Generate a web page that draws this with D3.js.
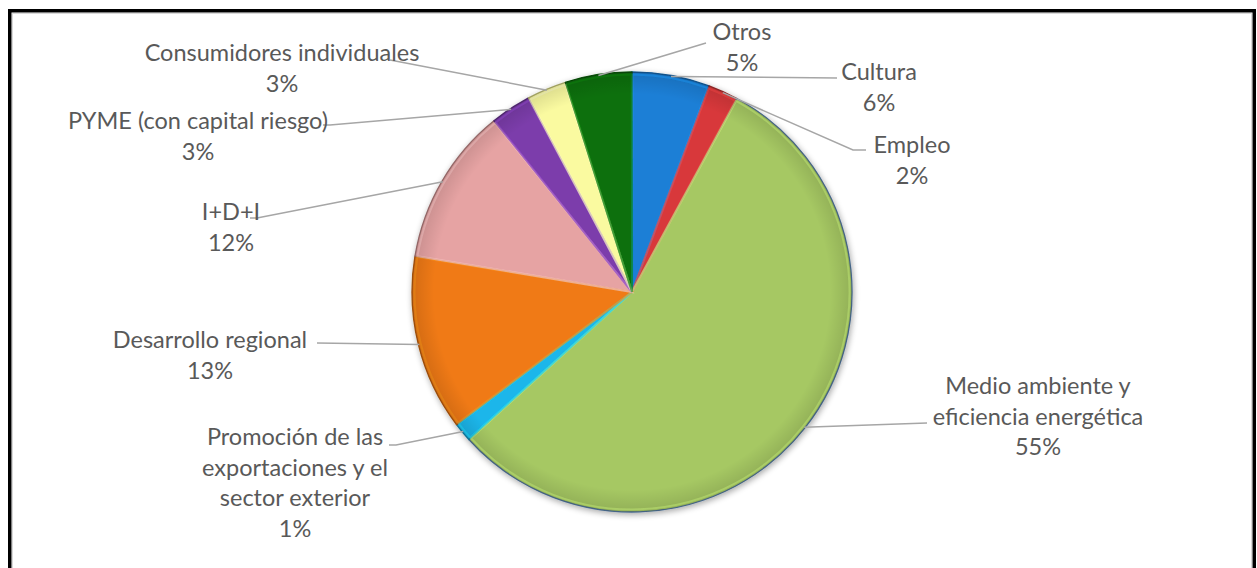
<!DOCTYPE html>
<html>
<head>
<meta charset="utf-8">
<script src="https://cdnjs.cloudflare.com/ajax/libs/d3/7.8.5/d3.min.js"></script>
<style>
  html, body { margin: 0; padding: 0; background: #fff; }
  svg { display: block; }
  .etiqueta { font-family: Lato, "Open Sans", sans-serif; font-size: 23.5px; fill: #595959; }
</style>
</head>
<body>
<div id="grafica"></div>
<script>
// datos (porcentaje aproximado de cada sector)
var categorias = ['Cultura', 'Empleo', 'Medio ambiente y eficiencia energética',
  'Promoción de las exportaciones y el sector exterior', 'Desarrollo regional',
  'I+D+I', 'PYME (con capital riesgo)', 'Consumidores individuales', 'Otros'];
var valores = [5.7, 2.2, 55.4, 1.4, 12.9, 11.6, 3.0, 2.9, 4.9];
var colores = ['#1a7fd6', '#d8393a', '#a6c864', '#1ab6ea', '#f07a14',
  '#e6a3a3', '#7b3cab', '#fafaa0', '#0a700a'];

// lineas de texto de cada etiqueta (nombre partido como en el original)
var lineasNombre = [
  ['Cultura'], ['Empleo'], ['Medio ambiente y', 'eficiencia energética'],
  ['Promoción de las', 'exportaciones y el', 'sector exterior'],
  ['Desarrollo regional'], ['I+D+I'], ['PYME (con capital riesgo)'],
  ['Consumidores individuales'], ['Otros']
];

// posicion de las etiquetas: centro x, centro y de la primera linea, final de la linea guia
var posEtiqueta = [
  {x: 879, y: 72, lx: 837, ly: 78, hx: 837},
  {x: 912, y: 145, lx: 853, ly: 150, hx: 866},
  {x: 1038, y: 386, lx: 927, ly: 423, hx: 927},
  {x: 295, y: 437, lx: 396, ly: 445, hx: 389},
  {x: 210, y: 340, lx: 317, ly: 343, hx: 317},
  {x: 231, y: 212, lx: 257, ly: 218, hx: 250},
  {x: 198, y: 121, lx: 330, ly: 125, hx: 323},
  {x: 282, y: 53, lx: 390, ly: 60, hx: 390},
  {x: 742, y: 32, lx: 706, ly: 43, hx: 706}
];

var W = 1257, H = 568;
var cx = 632, cy = 292, r = 220;
var interlinea = 30.5;

var svg = d3.select('#grafica').append('svg')
  .attr('width', W)
  .attr('height', H);

// marco
svg.append('rect')
  .attr('x', 9.75).attr('y', 10.75)
  .attr('width', 1244.5).attr('height', 620)
  .attr('fill', '#fff')
  .attr('stroke', '#000')
  .attr('stroke-width', 3.5);
svg.append('rect')
  .attr('x', 12.5).attr('y', 13.5)
  .attr('width', 1239).attr('height', 620)
  .attr('fill', 'none')
  .attr('stroke', '#d9d9d9')
  .attr('stroke-width', 1);

var defs = svg.append('defs');
var sombra = defs.append('filter').attr('id', 'sombra')
  .attr('x', '-10%').attr('y', '-10%').attr('width', '120%').attr('height', '120%');
sombra.append('feGaussianBlur').attr('in', 'SourceAlpha').attr('stdDeviation', 3);
sombra.append('feOffset').attr('dx', 1).attr('dy', 2).attr('result', 'b');
sombra.append('feComponentTransfer').append('feFuncA').attr('type', 'linear').attr('slope', 0.35);
var merge = sombra.append('feMerge');
merge.append('feMergeNode');
merge.append('feMergeNode').attr('in', 'SourceGraphic');

// bisel suave: mas oscuro hacia el borde
var bisel = defs.append('radialGradient').attr('id', 'bisel')
  .attr('gradientUnits', 'userSpaceOnUse')
  .attr('cx', cx).attr('cy', cy).attr('r', r);
bisel.append('stop').attr('offset', '0.9').attr('stop-color', '#000').attr('stop-opacity', 0);
bisel.append('stop').attr('offset', '1').attr('stop-color', '#000').attr('stop-opacity', 0.12);

var datos = categorias.map(function(c, i) {
  return {id: i, nombre: c, valor: valores[i], color: colores[i]};
});

var pie = d3.pie().sort(null).value(function(d) { return d.valor; });
var arcos = pie(datos);
var arc = d3.arc().innerRadius(0).outerRadius(r);
var total = d3.sum(valores);
var fmt = d3.format('.0%');

var g = svg.append('g').attr('transform', 'translate(' + cx + ',' + cy + ')');

// lineas guia
var lineas = svg.append('g');
arcos.forEach(function(a, i) {
  var ang = (a.startAngle + a.endAngle) / 2;
  var x0 = cx + Math.sin(ang) * (r - 1);
  var y0 = cy - Math.cos(ang) * (r - 1);
  var p = posEtiqueta[i];
  lineas.append('polyline')
    .attr('points', [[x0, y0], [p.lx, p.ly], [p.hx, p.ly]].map(function(q) { return q.join(','); }).join(' '))
    .attr('fill', 'none')
    .attr('stroke', '#a6a6a6')
    .attr('stroke-width', 1.5);
});

var tarta = g.append('g').attr('filter', 'url(#sombra)');
tarta.selectAll('.sector').data(arcos)
  .enter().append('path')
  .attr('class', 'sector')
  .attr('d', arc)
  .attr('fill', function(d) { return d.data.color; })
  .attr('stroke', function(d) { return d.data.id === 2 ? '#4a6a8c' : d3.color(d.data.color).darker(1.1); })
  .attr('stroke-width', 1.3)
  .attr('stroke-linejoin', 'round');

// brillo interior en los bordes de cada sector
tarta.selectAll('.brillo').data(arcos)
  .enter().append('path')
  .attr('class', 'brillo')
  .attr('d', d3.arc().innerRadius(0).outerRadius(r - 2.5).padAngle(0.004))
  .attr('fill', 'none')
  .attr('stroke', function(d) { return d3.color(d.data.color).brighter(0.6); })
  .attr('stroke-opacity', 0.6)
  .attr('stroke-width', 2);

g.append('circle')
  .attr('r', r)
  .attr('fill', 'url(#bisel)')
  .attr('transform', 'translate(' + (-cx) + ',' + (-cy) + ')')
  .attr('cx', cx).attr('cy', cy);

// etiquetas
var etiquetas = svg.append('g');
arcos.forEach(function(a, i) {
  var p = posEtiqueta[i];
  var lineasTexto = lineasNombre[i].concat([fmt(a.data.valor / total)]);
  var t = etiquetas.append('text')
    .attr('class', 'etiqueta')
    .attr('text-anchor', 'middle');
  lineasTexto.forEach(function(l, k) {
    t.append('tspan')
      .attr('x', p.x)
      .attr('y', p.y + k * interlinea)
      .attr('dy', '0.35em')
      .text(l);
  });
});
</script>
</body>
</html>
